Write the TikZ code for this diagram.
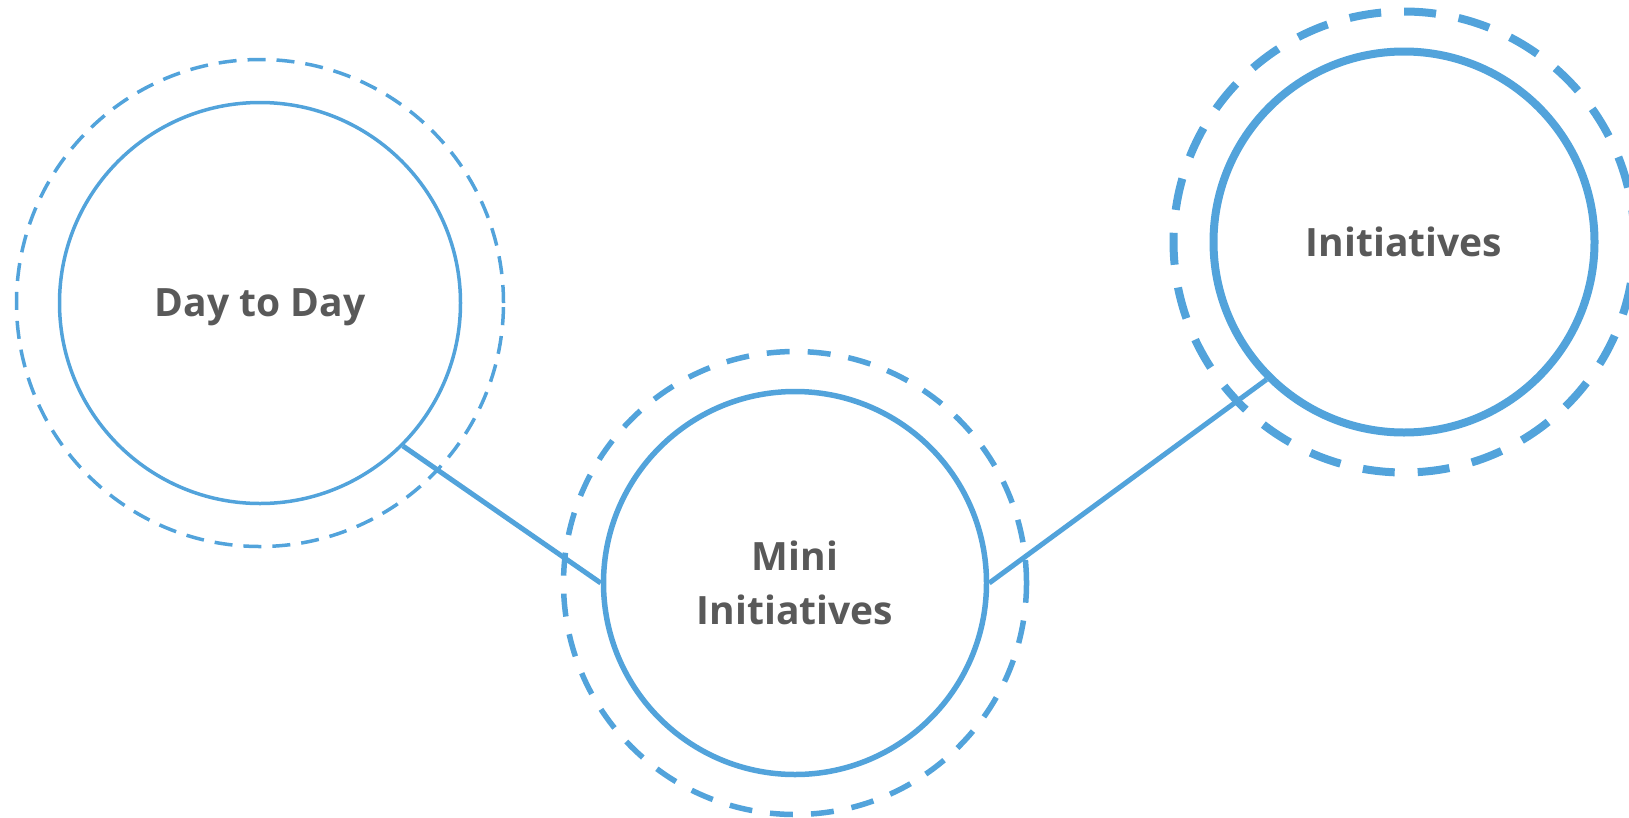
\documentclass[tikz,border=0pt]{standalone}
\usepackage{fontspec}
\setmainfont{Open Sans}
\usepackage{xcolor}
\definecolor{ringblue}{RGB}{82,163,219}
\definecolor{labelgray}{RGB}{89,89,89}

\begin{document}
\begin{tikzpicture}[x=1pt, y=-1pt,
  core/.style={circle, draw=ringblue, inner sep=0pt, text=labelgray,
    font=\fontsize{39}{54}\selectfont\bfseries, align=center, text depth=0pt},
  halo/.style={circle, draw=ringblue, inner sep=0pt},
  link/.style={draw=ringblue, line width=5pt}]
  \useasboundingbox (0,0) rectangle (1629,817);

  % dashed outer rings
  \node[halo, minimum size=487pt, line width=3.5pt, dash pattern=on 18pt off 11pt] (dayring) at (260,303) {};
  \node[halo, minimum size=463pt, line width=5.5pt, dash pattern=on 23pt off 18pt] (miniring) at (795,583) {};
  \node[halo, minimum size=461pt, line width=8pt, dash pattern=on 32pt off 23pt] (initring) at (1404,242) {};

  % solid inner circles with labels
  \node[core, minimum size=401pt, line width=3.5pt] (day) at (260,303) {Day to Day};
  \node[core, minimum size=383pt, line width=5.5pt] (mini) at (795,583) {Mini\\Initiatives};
  \node[core, minimum size=381pt, line width=8pt] (init) at (1404,242) {Initiatives};

  % connectors
  \draw[link] (day.-45) -- (mini.180);
  \draw[link] (mini.0) -- (init.-135);
\end{tikzpicture}
\end{document}
